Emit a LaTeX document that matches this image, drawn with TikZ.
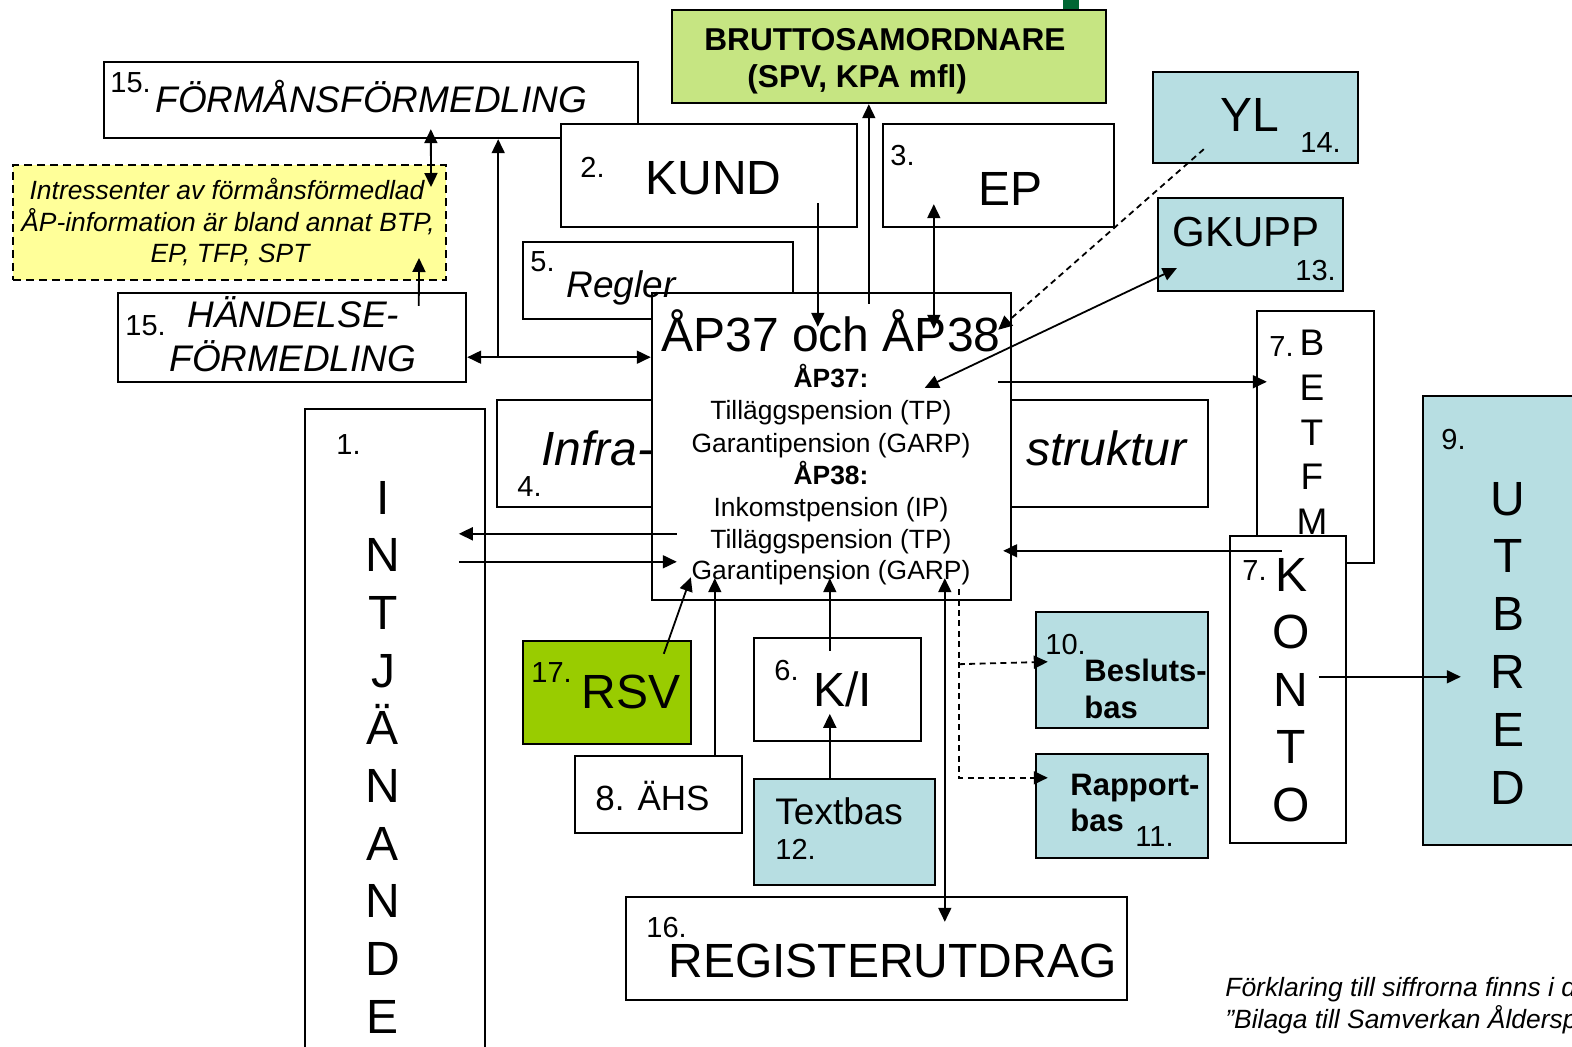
\documentclass[tikz,border=0pt]{standalone}
\usepackage{fontspec}
\setmainfont{Liberation Sans}
\usetikzlibrary{arrows.meta,calc,fit}

\definecolor{boxblue}{RGB}{183,222,226}
\definecolor{rsvgreen}{RGB}{153,204,0}
\definecolor{samgreen}{RGB}{198,229,130}
\definecolor{notice}{RGB}{255,255,153}
\definecolor{bargreen}{RGB}{0,102,51}

\begin{document}
\begin{tikzpicture}[x=0.5pt,y=-0.5pt,
  frame/.style={draw, line width=1.2pt, fill=white, inner sep=0pt},
  bluebox/.style={frame, fill=boxblue},
  txt/.style={inner sep=0pt, anchor=base west},
  ctr/.style={inner sep=0pt, anchor=base},
  fnum/.style={font=\fontsize{14.5}{17}\selectfont},
  fbig/.style={font=\fontsize{24}{28}\selectfont},
  fmid/.style={font=\fontsize{18.5}{22}\selectfont},
  fital/.style={font=\fontsize{18.5}{22}\selectfont\itshape},
  fbigital/.style={font=\fontsize{24}{28}\selectfont\itshape},
  fsmall/.style={font=\fontsize{13.2}{16}\selectfont},
  fsmallbold/.style={font=\fontsize{13.2}{16}\selectfont\bfseries},
  fnote/.style={font=\fontsize{13.2}{16}\selectfont\itshape},
  fbold/.style={font=\fontsize{15.5}{18}\selectfont\bfseries},
  tip/.tip={Triangle[length=7pt,width=6.5pt]},
  link/.style={line width=0.9pt, -tip},
  twoway/.style={line width=0.9pt, tip-tip},
  brokenline/.style={line width=0.9pt, dash pattern=on 3pt off 2.2pt},
]
\useasboundingbox (0,0) rectangle (1572,1047);
\clip (0,0) rectangle (1572,1047);

% top strip and gross coordinator
\fill[bargreen] (1063,0) rectangle (1079,9);
\node[frame, fill=samgreen, fit={(672,10)(1106,103)}] (brutto) {};
\node[txt, font=\fontsize{15.8}{18}\selectfont\bfseries] (brutto-a) at (704,51) {BRUTTOSAMORDNARE};
\node[txt, font=\fontsize{15.8}{18}\selectfont\bfseries] (brutto-b) at (747,88) {(SPV, KPA mfl)};

% benefit mediation, customer, EP
\node[frame, fit={(104,62)(638,138)}] (forman) {};
\node[txt, fnum] (forman-n) at (110,93) {15.};
\node[txt, fital] (forman-t) at (155,113) {FÖRMÅNSFÖRMEDLING};

\node[frame, fit={(561,124)(857,227)}] (kund) {};
\node[txt, fnum] (kund-n) at (580,178) {2.};
\node[txt, fbig] (kund-t) at (645,195) {KUND};

\node[frame, fit={(883,124)(1114,227)}] (ep) {};
\node[txt, fnum] (ep-n) at (890,166) {3.};
\node[txt, fbig] (ep-t) at (978,206) {EP};

% YL and GKUPP
\node[bluebox, fit={(1153,72)(1358,163)}] (yl) {};
\node[txt, fbig] (yl-t) at (1220,132) {YL};
\node[txt, fnum] (yl-n) at (1300,153) {14.};

\node[bluebox, fit={(1158,198)(1343,291)}] (gkupp) {};
\node[txt, font=\fontsize{21}{25}\selectfont] (gkupp-t) at (1172,247) {GKUPP};
\node[txt, fnum] (gkupp-n) at (1295,281) {13.};

% interested parties note
\node[draw, line width=1pt, dash pattern=on 4pt off 2.5pt, fill=notice, inner sep=0pt, fit={(13,165)(446,280)}] (interest) {};
\node[ctr, fnote] (interest-a) at (227,200) {Intressenter av förmånsförmedlad};
\node[ctr, fnote] (interest-b) at (228,232) {ÅP-information är bland annat BTP,};
\node[ctr, fnote] (interest-c) at (230,263) {EP, TFP, SPT};

% event mediation
\node[frame, fit={(118,293)(466,382)}] (handelse) {};
\node[txt, fnum] (handelse-n) at (125,336) {15.};
\node[txt, fital] (handelse-a) at (187,328) {HÄNDELSE-};
\node[txt, fital] (handelse-b) at (169,372) {FÖRMEDLING};

% rules
\node[frame, fit={(523,242)(793,319)}] (regler) {};
\node[txt, fnum] (regler-n) at (530,272) {5.};

% infrastructure band
\node[frame, fit={(497,400)(1208,507)}] (infra) {};
\node[txt, fbigital] (infra-a) at (541,466) {Infra-};
\node[txt, fnum] (infra-n) at (517,496) {4.};
\node[txt, fbigital] (infra-b) at (1026,466) {struktur};

% earning column
\node[frame, fit={(305,409)(485,1070)}] (intj) {};
\node[txt, fnum] (intj-n) at (336,455) {1.};
\foreach \ch [count=\i] in {I,N,T,J,Ä,N,A,N,D,E}
  \node[ctr, fbig] (intj-\i) at ({383},{514+57.7*(\i-1)}) {\ch};

% BETFM and KONTO columns
\node[frame, fit={(1257,311)(1374,563)}] (betfm) {};
\node[txt, fnum] (betfm-n) at (1269,357) {7.};
\foreach \ch [count=\i] in {B,E,T,F,M}
  \node[ctr, font=\fontsize{18.5}{22}\selectfont] (betfm-\i) at ({1312},{356+44.6*(\i-1)}) {\ch};

\node[frame, fit={(1230,536)(1346,843)}] (konto) {};
\node[txt, fnum] (konto-n) at (1242,580) {7.};
\foreach \ch [count=\i] in {K,O,N,T,O}
  \node[ctr, fbig] (konto-\i) at ({1291},{591+57.5*(\i-1)}) {\ch};

% payout column
\node[bluebox, fit={(1423,396)(1600,845)}] (utbred) {};
\node[txt, fnum] (utbred-n) at (1441,450) {9.};
\foreach \ch [count=\i] in {U,T,B,R,E,D}
  \node[ctr, fbig] (utbred-\i) at ({1508},{515+57.8*(\i-1)}) {\ch};

% central pension system
\node[frame, fit={(652,293)(1011,600)}] (central) {};
\node[ctr, fbig] (central-t) at (831,352) {ÅP37 och ÅP38};
\node[ctr, fsmallbold] (central-1) at (831,388) {ÅP37:};
\node[ctr, fsmall] (central-2) at (831,420) {Tilläggspension (TP)};
\node[ctr, fsmall] (central-3) at (831,452) {Garantipension (GARP)};
\node[ctr, fsmallbold] (central-4) at (831,484) {ÅP38:};
\node[ctr, fsmall] (central-5) at (831,516) {Inkomstpension (IP)};
\node[ctr, fsmall] (central-6) at (831,548) {Tilläggspension (TP)};
\node[ctr, fsmall] (central-7) at (831,579) {Garantipension (GARP)};
\node[txt, fital] (regler-t) at (566,298) {Regler};

% decision and report bases
\node[bluebox, fit={(1036,612)(1208,728)}] (beslut) {};
\node[txt, fnum] (beslut-n) at (1045,654) {10.};
\node[txt, fbold] (beslut-a) at (1084,681) {Besluts-};
\node[txt, fbold] (beslut-b) at (1084,718) {bas};

\node[bluebox, fit={(1036,754)(1208,858)}] (rapport) {};
\node[txt, fbold] (rapport-a) at (1070,795) {Rapport-};
\node[txt, fbold] (rapport-b) at (1070,831) {bas};
\node[txt, fnum] (rapport-n) at (1135,846) {11.};

% K/I, text base, RSV, ÄHS, register extract
\node[frame, fit={(754,638)(921,741)}] (ki) {};
\node[txt, fnum] (ki-n) at (774,680) {6.};
\node[txt, fbig] (ki-t) at (813,706) {K/I};

\node[bluebox, fit={(754,779)(935,885)}] (textbas) {};
\node[txt, fmid] (textbas-t) at (775,824) {Textbas};
\node[txt, fnum] (textbas-n) at (775,859) {12.};

\node[frame, fill=rsvgreen, fit={(523,641)(691,744)}] (rsv) {};
\node[txt, fnum] (rsv-n) at (531,682) {17.};
\node[txt, fbig] (rsv-t) at (581,708) {RSV};

\node[frame, fit={(575,756)(742,833)}] (ahs) {};
\node[txt, font=\fontsize{17.5}{21}\selectfont] (ahs-t) at (595,810) {8. ÄHS};

\node[frame, fit={(626,897)(1127,1000)}] (reg) {};
\node[txt, fnum] (reg-n) at (646,937) {16.};
\node[txt, fbig] (reg-t) at (668,977) {REGISTERUTDRAG};

% footnote, running off the right edge of the sheet
\node[txt, fnote] (note-a) at (1225,996) {Förklaring till siffrorna finns i d};
\node[txt, fnote] (note-b) at (1225,1028) {”Bilaga till Samverkan Åldersp};

% connectors
\draw[twoway] ($(forman.south west)+(328,-10)$) -- ($(interest.north west)+(419,23)$);
\draw[link] ($(handelse.north west)+(302,14)$) -- ($(interest.south west)+(407,-23)$);
\coordinate (jn) at ($(handelse.south east)+(31,-26)$);
\draw[link] (jn) -- (jn |- forman.south);
\draw[twoway] ($(handelse.south east)+(0,-26)$) -- (jn -| central.west);
\draw[link] ($(kund.south west)+(258,-25)$) -- ($(central.north west)+(167,35)$);
\coordinate (up) at ($(central.north west)+(218,12)$);
\draw[link] (up) -- (up |- brutto.south);
\draw[twoway] ($(ep.south west)+(52,-24)$) -- ($(central.north west)+(283,37)$);
\draw[brokenline, -tip] ($(yl.south west)+(52,-15)$) -- ($(central.north east)+(-14,38)$);
\draw[twoway] ($(gkupp.south west)+(20,-24)$) -- ($(central.north west)+(274,96)$);
\draw[link] ($(central.north east)+(-14,90)$) -- ($(betfm.north west)+(11,72)$);
\draw[link] ($(konto.north west)+(53,16)$) -- ($(central.north east)+(-9,259)$);
\draw[link] ($(konto.north west)+(90,142)$) -- ($(utbred.north west)+(39,282)$);
\draw[link] ($(central.north west)+(26,242)$) -- ($(intj.north west)+(155,126)$);
\draw[link] ($(intj.north west)+(155,154)$) -- ($(central.north west)+(26,270)$);
\draw[link] ($(rsv.north west)+(142,14)$) -- ($(central.south west)+(40,-24)$);
\draw[link] ($(ahs.north west)+(141,0)$) -- ($(central.south west)+(64,-23)$);
\draw[link] ($(ki.north west)+(77,14)$) -- ($(central.south west)+(179,-23)$);
\draw[link] ($(textbas.north west)+(77,0)$) -- ($(ki.north west)+(77,77)$);
\draw[twoway] ($(central.south west)+(294,-23)$) -- ($(reg.north west)+(320,26)$);
\coordinate (d0) at ($(central.south west)+(308,-12)$);
\draw[brokenline, -tip] (d0) |- ($(rapport.north west)+(13,25)$);
\draw[brokenline, -tip] ($(d0)+(0,75)$) -- ($(beslut.north west)+(13,51)$);
\end{tikzpicture}
\end{document}
